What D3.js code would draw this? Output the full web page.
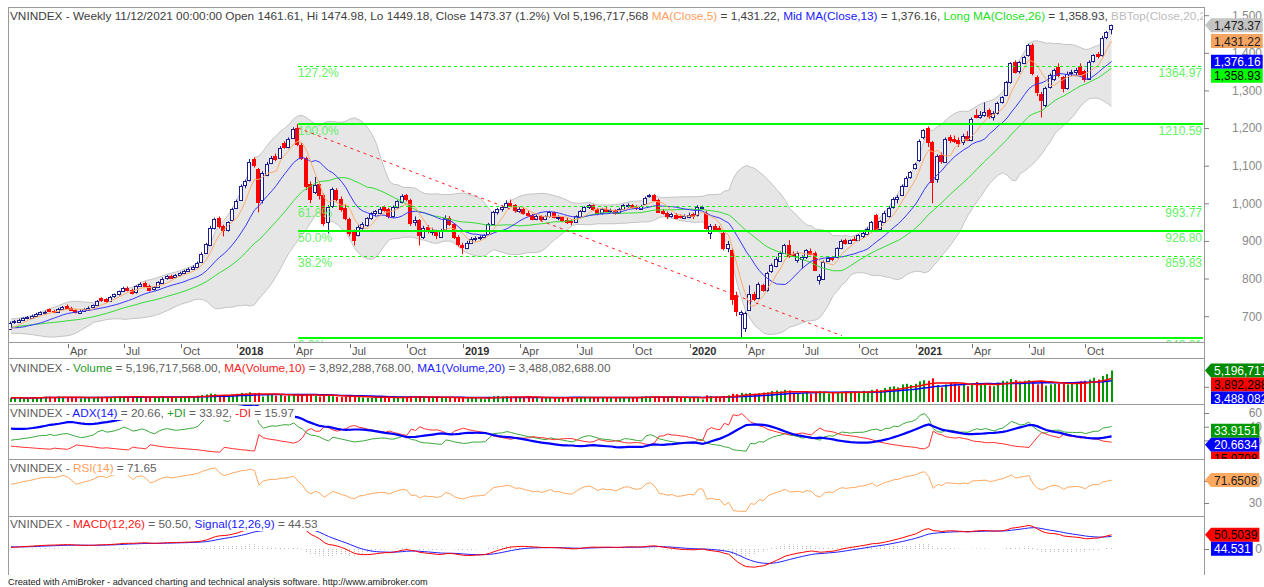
<!DOCTYPE html>
<html>
<head>
<meta charset="utf-8">
<script src="https://cdn.jsdelivr.net/npm/d3@7"></script>
<style>
  body { margin: 0; background: #fff; }
  svg { display: block; }
  svg text { font-family: "Liberation Sans", Arial, sans-serif; }
</style>
</head>
<body>
<svg></svg>
<script>
var w = 1264;
var h = 587;

var svg = d3.select("svg")
            .attr("width", w)
            .attr("height", h);

// weekly bars [open, high, low, close], first week ends 6 Jan 2017
var ohlc2017 = [
  [668,686,665,683],[684,690,680,686],[686,693,683,690],[690,697,688,694],[695,700,692,697],
  [697,704,695,701],[701,709,699,706],[706,713,704,710],[710,715,707,712],[718,720,711,714],
  [714,717,708,713],[712,722,710,719],[719,727,717,724],[728,731,719,722],[722,725,714,717],
  [717,719,707,711],[711,718,709,715],[715,721,712,719],[719,726,716,723],[723,731,721,729],
  [729,743,727,740],[748,750,738,743],[745,748,736,741],[741,754,739,752],[752,760,749,758],
  [758,768,755,766],[766,778,764,775],[776,779,766,770],[770,773,758,763],[763,782,760,780],
  [780,790,778,786],[788,792,778,781],[781,784,766,771],[771,780,768,777],[777,793,775,790],
  [790,803,788,800],[800,809,797,806],[808,810,800,804],[804,812,801,809],[809,818,806,815],
  [815,823,812,820],[820,829,818,826],[826,835,823,832],[832,845,830,842],[845,870,843,866],
  [868,895,866,891],[890,940,886,934],[934,962,930,957],[960,965,933,940],[940,943,912,930],
  [930,952,925,950],[955,988,952,984]
];
var ohlc2018 = [
  [987,1010,985,1005],[1008,1050,1006,1045],[1048,1063,1040,1058],[1061,1118,1058,1110],[1118,1122,1095,1102],
  [1090,1094,976,1003],[1008,1085,1000,1080],[1076,1110,1072,1105],[1108,1126,1104,1121],[1127,1132,1112,1120],
  [1122,1152,1118,1148],[1160,1165,1145,1150],[1150,1175,1146,1172],[1175,1202,1172,1198],[1200,1210.59,1152,1158],
  [1156,1160,1115,1122],[1120,1124,1035,1045],[1052,1058,1000,1012],[1030,1070,1025,1048],[1050,1055,1010,1020],
  [1022,1026,940,948],[950,995,920,990],[992,1042,988,1038],[1035,1040,1005,1012],[1012,1018,978,985],
  [988,996,955,962],[958,962,912,920],[925,930,888,905],[918,942,912,938],[935,950,930,946],
  [942,963,938,960],[960,976,956,973],[973,982,965,979],[976,990,972,986],[990,994,978,983],
  [985,988,960,966],[966,994,962,990],[990,1008,985,1005],[1005,1024,1000,1020],[1022,1025,1005,1012],
  [1010,1012,940,950],[950,965,940,955],[955,958,888,915],[912,940,905,935],[936,942,920,928],
  [925,935,915,926],[926,930,905,915],[912,932,908,927],[930,968,928,960],[962,966,940,945],
  [945,948,905,910],[910,915,885,892]
];
var ohlc2019 = [
  [890,895,865,885],[882,900,878,895],[895,910,892,906],[905,912,898,908],[908,915,902,910],
  [910,918,908,915],[918,948,915,945],[946,980,944,978],[978,988,970,985],[985,995,978,990],
  [992,1008,988,1002],[1002,1010,990,995],[995,998,975,982],[980,990,975,985],[986,990,970,975],
  [974,980,965,970],[970,972,955,960],[958,970,955,966],[966,968,952,958],[958,968,955,965],
  [965,980,962,976],[976,978,960,963],[962,968,955,964],[964,966,950,956],[956,962,945,952],
  [952,958,942,950],[950,968,948,965],[965,982,962,980],[980,992,976,990],[990,998,985,995],
  [995,997,980,985],[985,988,968,975],[975,988,970,985],[985,990,976,980],[980,986,975,982],
  [982,984,970,975],[975,988,972,985],[985,998,982,995],[995,1000,988,996],[996,998,985,990],
  [990,995,982,987],[986,996,984,993],[998,1018,996,1015],[1018,1025,1015,1021],[1022,1025,1005,1010],
  [1009,1012,975,978],[980,985,970,975],[975,978,958,968],[965,975,962,971],[970,974,958,962],
  [966,970,960,963],[962,970,958,966]
];
var ohlc2020 = [
  [966,975,960,970],[972,975,958,966],[968,995,965,990],[990,994,985,991],[975,980,930,936],
  [922,945,905,940],[940,945,928,933],[935,940,925,930],[921,925,875,880],[882,900,870,893],
  [876,880,730,745],[755,765,700,712],[705,715,643.01,710],[668,712,658,708],[718,782,715,760],
  [760,765,740,748],[748,790,745,785],[783,786,765,771],[770,818,765,815],[818,840,815,835],
  [833,858,830,852],[848,872,844,868],[868,892,866,888],[888,902,855,860],[866,872,860,862],
  [848,872,842,867],[852,862,826,858],[856,878,852,875],[874,880,862,866],[868,872,820,824],
  [797,812,784,808],[800,848,796,844],[848,858,845,855],[856,860,846,850],[856,883,854,880],
  [882,904,878,900],[902,906,890,894],[895,904,892,902],[905,912,900,903],[903,918,900,915],
  [912,924,908,921],[921,936,918,933],[930,953,927,950],[968,972,925,929],[932,955,928,952],
  [952,980,948,975],[968,992,962,988],[990,1016,986,1012],[1012,1022,1000,1018],[1022,1050,1020,1046],
  [1048,1072,1045,1068],[1070,1086,1065,1082]
];
var ohlc2021 = [
  [1093,1108,1090,1104],[1115,1170,1110,1166],[1176,1197,1170,1194],[1200,1204,1150,1162],[1162,1166,1000,1056],
  [1064,1130,1055,1126],[1128,1135,1105,1112],[1112,1175,1108,1172],[1176,1182,1160,1168],[1170,1180,1160,1166],
  [1168,1175,1150,1160],[1162,1185,1155,1178],[1180,1192,1165,1170],[1168,1228,1165,1224],[1236,1250,1226,1230],
  [1230,1245,1225,1236],[1234,1268,1230,1242],[1248,1252,1225,1232],[1230,1245,1220,1240],[1240,1270,1236,1266],
  [1268,1285,1265,1282],[1288,1325,1285,1322],[1322,1375,1318,1373],[1375,1380,1345,1349],[1350,1378,1345,1375],
  [1373,1392,1370,1389],[1394,1424,1390,1420],[1421,1425,1340,1346],[1335,1340,1285,1296],[1290,1296,1228,1275],
  [1260,1310,1255,1306],[1309,1345,1305,1341],[1330,1358,1325,1354],[1362,1372,1335,1340],[1335,1338,1295,1305],
  [1308,1350,1302,1345],[1345,1355,1338,1348],[1348,1360,1340,1354],[1366,1372,1340,1345],[1352,1355,1322,1330],
  [1332,1380,1328,1376],[1378,1396,1374,1394],[1398,1402,1385,1392],[1394,1445,1390,1440],[1442,1458,1436,1456],
  [1461.61,1474.98,1449.18,1473.37]
];

// weekly volume, millions of shares
var vol2017 = [650,720,680,560,700,760,820,780,850,900,800,880,760,
               700,720,650,600,640,780,820,900,860,780,820,880,940,
               860,800,900,880,780,740,700,760,820,860,780,740,800,
               860,900,880,950,1050,1150,1250,1400,1300,1150,1100,1000,1200];
var vol2018 = [1350,1500,1400,1600,1450,1500,900,1100,1150,1050,1200,1000,1100,
               1250,1350,1100,1200,1150,1000,900,1050,1100,950,850,800,850,
               900,950,800,750,700,720,700,750,680,700,760,820,850,
               800,1000,820,950,780,700,650,720,680,800,720,700,750];
var vol2019 = [680,620,650,700,600,450,850,950,1000,900,950,920,800,
               760,720,700,680,640,700,720,760,680,640,700,720,680,
               780,820,860,840,760,720,700,680,650,720,800,760,740,
               760,820,880,900,860,820,900,780,720,700,680,720,680];
var vol2020 = [720,760,800,420,1100,950,900,850,1000,1100,1350,1300,1500,
               1400,1500,1350,1450,1550,1600,1800,1900,1750,2000,1900,1500,1450,
               1400,1500,1350,1600,1800,1700,1400,1500,1550,1700,1650,1550,1600,
               1700,1850,1750,2000,2100,1950,2300,2500,2600,2400,2900,3000,2800];
var vol2021 = [3000,3400,3600,3500,3900,2800,2400,2900,3200,3000,2700,2800,2600,
               3100,3300,2900,3000,2700,2600,3200,3500,3400,3800,3600,3400,3500,
               3600,3300,2900,3500,2700,2900,3000,3000,3100,2900,
               3200,3300,3400,3500,3700,4000,3700,4300,4600,5196.717568];

// late 2016 weeks, only to warm up the indicators
var warmClose = [612,618,628,632,634,644,650,646,652,663,670,672,680,676,684,682,688,686,680,684,678,672,662,668,672,668,662,656,660,666,665];
var warmHigh  = [618,622,632,638,640,648,656,654,656,668,675,678,685,684,688,688,692,692,688,688,686,680,674,672,676,674,670,664,664,670,670];
var warmLow   = [604,610,616,626,628,632,642,640,644,650,662,666,670,670,674,676,680,680,676,678,674,668,658,660,664,662,658,650,652,656,660];

// fibonacci drawing: from the 2018 top to the 2020 bottom
var fibRatios = [0, 0.382, 0.5, 0.618, 1, 1.272];
var fibNames  = ["0.0%", "38.2%", "50.0%", "61.8%", "100.0%", "127.2%"];
var fibDashed = [false, true, false, true, false, true];
var fibHighBar = 66, fibLowBar = 168;
// red trend line [bar, price]
var trendPoints = [[66, 1200], [191, 648]];

// last values shown in the right margin
var mainLast = [1473.37, 1431.22, 1376.16, 1358.93];
var volLast  = [5196717568, 3892288768, 3488082688];
var adxLast  = [33.9151, 20.6634, 15.9708];
var rsiLast  = [71.6508];
var macdLast = [50.5039, 44.531];

var priceTicks = [700, 800, 900, 1000, 1100, 1200, 1300, 1400, 1500];

var grey = "#606060";

var ohlc = ohlc2017.concat(ohlc2018, ohlc2019, ohlc2020, ohlc2021);
var vols = vol2017.concat(vol2018, vol2019, vol2020, vol2021);
var n = ohlc.length;

var bars = ohlc.map(function(d, i) {
  return {i: i, date: new Date(2017, 0, 6 + 7 * i),
          o: d[0], h: d[1], l: d[2], c: d[3], v: vols[i] * 1e6};
});

// indicator helpers
function sma(a, p) {
  return a.map(function(d, i) { return d3.mean(a.slice(Math.max(0, i - p + 1), i + 1)); });
}
function sdev(a, p) {
  return a.map(function(d, i) {
    var s = a.slice(Math.max(0, i - p + 1), i + 1), m = d3.mean(s);
    return Math.sqrt(d3.mean(s, function(v) { return (v - m) * (v - m); }));
  });
}
function smooth(a, k) {
  var out = [], prev = a[0];
  a.forEach(function(v, i) { prev = i === 0 ? v : prev + k * (v - prev); out.push(prev); });
  return out;
}
function ema(a, p) { return smooth(a, 2 / (p + 1)); }
function wilders(a, p) { return smooth(a, 1 / p); }

var allC = warmClose.concat(bars.map(function(d) { return d.c; }));
var allH = warmHigh.concat(bars.map(function(d) { return d.h; }));
var allL = warmLow.concat(bars.map(function(d) { return d.l; }));
var skip = warmClose.length;

var ma5 = sma(allC, 5), ma13 = sma(allC, 13), ma26 = sma(allC, 26);
var mid20 = sma(allC, 20), sd20 = sdev(allC, 20);

var gain = [0], loss = [0], tr = [allH[0] - allL[0]], pdm = [0], mdm = [0];
for (var k = 1; k < allC.length; k++) {
  var ch = allC[k] - allC[k - 1];
  gain.push(Math.max(ch, 0));
  loss.push(Math.max(-ch, 0));
  var up = allH[k] - allH[k - 1], dn = allL[k - 1] - allL[k];
  tr.push(Math.max(allH[k] - allL[k], Math.abs(allH[k] - allC[k - 1]), Math.abs(allL[k] - allC[k - 1])));
  pdm.push(up > dn && up > 0 ? up : 0);
  mdm.push(dn > up && dn > 0 ? dn : 0);
}
var ag = wilders(gain, 14), al = wilders(loss, 14);
var rsi = ag.map(function(g, k) { return al[k] === 0 ? 100 : 100 - 100 / (1 + g / al[k]); });
var atr = wilders(tr, 14);
var pdi = wilders(pdm, 14).map(function(v, k) { return 100 * v / atr[k]; });
var mdi = wilders(mdm, 14).map(function(v, k) { return 100 * v / atr[k]; });
var dx = pdi.map(function(v, k) { return v + mdi[k] ? 100 * Math.abs(v - mdi[k]) / (v + mdi[k]) : 0; });
var adx = wilders(dx, 14);
var e12 = ema(allC, 12), e26 = ema(allC, 26);
var macd = e12.map(function(v, k) { return v - e26[k]; });
var signal = ema(macd, 9);

var vma10 = sma(vols, 10), vma20 = sma(vols, 20);

bars.forEach(function(d, i) {
  var k = i + skip;
  d.ma5 = ma5[k]; d.ma13 = ma13[k]; d.ma26 = ma26[k];
  d.bbTop = mid20[k] + 2 * sd20[k]; d.bbBot = mid20[k] - 2 * sd20[k];
  d.rsi = rsi[k]; d.adx = adx[k]; d.pdi = pdi[k]; d.mdi = mdi[k];
  d.macd = macd[k]; d.signal = signal[k]; d.hist = macd[k] - signal[k];
  d.vma10 = vma10[i] * 1e6; d.vma20 = vma20[i] * 1e6;
});

// layout
var xLeft = 8, xAxis = 1204;
var panes = {
  main: [7, 342], vol: [358, 404], adx: [404, 459], rsi: [459, 516], macd: [516, 574]
};

var xScale = d3.scaleLinear().domain([0, n - 1]).range([11, 11 + (n - 1) * 4.35]);
var yMain = d3.scaleLinear().domain([1000, 1500]).range([203.3, 15.2]);
var yVol  = d3.scaleLinear().domain([0, 6e9]).range([402, 365.6]);
var yAdx  = d3.scaleLinear().domain([0, 60]).range([454, 413]);
var yRsi  = d3.scaleLinear().domain([30, 70]).range([503, 481]);
var yMacd = d3.scaleLinear().domain([0, 50]).range([549, 535]);

var defs = svg.append("defs");
Object.keys(panes).forEach(function(key) {
  var p = panes[key];
  defs.append("clipPath").attr("id", "clip-" + key).append("rect")
      .attr("x", xLeft + 1).attr("y", p[0] + 1)
      .attr("width", xAxis - xLeft - 1).attr("height", p[1] - p[0] - 1);
  defs.append("clipPath").attr("id", "lab-" + key).append("rect")
      .attr("x", xAxis).attr("y", p[0] + 1)
      .attr("width", w - xAxis).attr("height", p[1] - p[0] - 1);
});

function line(field, y) {
  return d3.line()
           .x(function(d) { return xScale(d.i); })
           .y(function(d) { return y(d[field]); });
}

// ---------- price pane ----------
var gMain = svg.append("g").attr("clip-path", "url(#clip-main)");

gMain.append("path").datum(bars)
     .attr("d", d3.area()
                  .x(function(d) { return xScale(d.i); })
                  .y0(function(d) { return yMain(d.bbBot); })
                  .y1(function(d) { return yMain(d.bbTop); }))
     .attr("fill", "#e6e6e6");
["bbTop", "bbBot"].forEach(function(f) {
  gMain.append("path").datum(bars).attr("d", line(f, yMain))
       .attr("fill", "none").attr("stroke", "#c4c4c4");
});

var candle = gMain.selectAll("g.candle")
      .data(bars)
      .join("g")
      .attr("class", "candle");
candle.append("line")
      .attr("x1", function(d) { return Math.round(xScale(d.i)) - 0.5; })
      .attr("x2", function(d) { return Math.round(xScale(d.i)) - 0.5; })
      .attr("y1", function(d) { return yMain(d.h); })
      .attr("y2", function(d) { return yMain(d.l); })
      .attr("stroke", function(d) { return d.c >= d.o ? "#1c1c8c" : "#ff0000"; });
candle.append("rect")
      .attr("x", function(d) { return Math.round(xScale(d.i)) - 2.5; })
      .attr("width", 3)
      .attr("y", function(d) { return Math.round(yMain(Math.max(d.o, d.c))) + 0.5; })
      .attr("height", function(d) { return Math.max(1, Math.round(Math.abs(yMain(d.o) - yMain(d.c)))); })
      .attr("fill", function(d) { return d.c >= d.o ? "#ffffff" : "#ff0000"; })
      .attr("stroke", function(d) { return d.c >= d.o ? "#1c1c8c" : "#ff0000"; });

gMain.append("path").datum(bars).attr("d", line("ma26", yMain))
     .attr("fill", "none").attr("stroke", "#33dd33");
gMain.append("path").datum(bars).attr("d", line("ma13", yMain))
     .attr("fill", "none").attr("stroke", "#3838ff");
gMain.append("path").datum(bars).attr("d", line("ma5", yMain))
     .attr("fill", "none").attr("stroke", "#ffab6a");

// fibonacci levels
var fibHigh = bars[fibHighBar].h, fibLow = bars[fibLowBar].l;
fibRatios.forEach(function(r, k) {
  var v = fibLow + r * (fibHigh - fibLow);
  var y = Math.round(yMain(v));
  gMain.append("line")
       .attr("x1", xScale(fibHighBar)).attr("x2", xAxis - 1)
       .attr("y1", fibDashed[k] ? y + 0.5 : y).attr("y2", fibDashed[k] ? y + 0.5 : y)
       .attr("stroke", "#00ff00")
       .attr("stroke-width", fibDashed[k] ? 1 : 2)
       .attr("stroke-dasharray", fibDashed[k] ? "3,3" : null);
  gMain.append("text")
       .attr("x", xScale(fibHighBar)).attr("y", y + 11)
       .attr("font-size", 12).attr("fill", "#66f066")
       .text(fibNames[k]);
  gMain.append("text")
       .attr("x", xAxis - 2).attr("y", y + 11)
       .attr("text-anchor", "end")
       .attr("font-size", 12).attr("fill", "#66f066")
       .text(v.toFixed(2));
});

gMain.append("line")
     .attr("x1", xScale(trendPoints[0][0])).attr("y1", yMain(trendPoints[0][1]))
     .attr("x2", xScale(trendPoints[1][0])).attr("y2", yMain(trendPoints[1][1]))
     .attr("stroke", "#ff2020").attr("stroke-dasharray", "3,4");

// ---------- volume pane ----------
var gVol = svg.append("g").attr("clip-path", "url(#clip-vol)");
gVol.selectAll("rect")
    .data(bars)
    .join("rect")
    .attr("x", function(d) { return Math.round(xScale(d.i)) - 1; })
    .attr("width", 2)
    .attr("y", function(d) { return yVol(d.v); })
    .attr("height", function(d) { return yVol(0) - yVol(d.v); })
    .attr("fill", function(d) { return d.c >= d.o ? "#009a00" : "#ff0000"; });
gVol.append("path").datum(bars).attr("d", line("vma20", yVol))
    .attr("fill", "none").attr("stroke", "#0000ff").attr("stroke-width", 1.5);
gVol.append("path").datum(bars).attr("d", line("vma10", yVol))
    .attr("fill", "none").attr("stroke", "#ff0000").attr("stroke-width", 1.5);

// ---------- ADX pane ----------
var gAdx = svg.append("g").attr("clip-path", "url(#clip-adx)");
gAdx.append("path").datum(bars).attr("d", line("pdi", yAdx))
    .attr("fill", "none").attr("stroke", "#3aa83a");
gAdx.append("path").datum(bars).attr("d", line("mdi", yAdx))
    .attr("fill", "none").attr("stroke", "#ff3030");
gAdx.append("path").datum(bars).attr("d", line("adx", yAdx))
    .attr("fill", "none").attr("stroke", "#0000ff").attr("stroke-width", 2.2);

// ---------- RSI pane ----------
var gRsi = svg.append("g").attr("clip-path", "url(#clip-rsi)");
gRsi.append("path").datum(bars).attr("d", line("rsi", yRsi))
    .attr("fill", "none").attr("stroke", "#ffa860");

// ---------- MACD pane ----------
var gMacd = svg.append("g").attr("clip-path", "url(#clip-macd)");
gMacd.selectAll("line.hist")
     .data(bars)
     .join("line")
     .attr("class", "hist")
     .attr("x1", function(d) { return Math.round(xScale(d.i)) - 0.5; })
     .attr("x2", function(d) { return Math.round(xScale(d.i)) - 0.5; })
     .attr("y1", yMacd(0))
     .attr("y2", function(d) { return yMacd(d.hist); })
     .attr("stroke", "#b8b8b8").attr("stroke-dasharray", "1,1");
gMacd.append("path").datum(bars).attr("d", line("signal", yMacd))
     .attr("fill", "none").attr("stroke", "#2020ff");
gMacd.append("path").datum(bars).attr("d", line("macd", yMacd))
     .attr("fill", "none").attr("stroke", "#ff0000");

// ---------- frames ----------
var frame = svg.append("g").attr("stroke", "#9a9a9a").attr("shape-rendering", "crispEdges");
frame.append("line").attr("x1", xLeft + 0.5).attr("x2", xLeft + 0.5).attr("y1", 7).attr("y2", 575);
frame.append("line").attr("x1", xAxis + 0.5).attr("x2", xAxis + 0.5).attr("y1", 7).attr("y2", 575);
[7, 342, 358, 404, 459, 516].forEach(function(y) {
  frame.append("line").attr("x1", xLeft).attr("x2", xAxis).attr("y1", y + 0.5).attr("y2", y + 0.5);
});

// date axis
var quarterBars = bars.filter(function(d, i) {
  return i > 0 && d.date.getMonth() % 3 === 0 && d.date.getMonth() !== bars[i - 1].date.getMonth();
});
var dateAxis = svg.append("g");
dateAxis.selectAll("line")
        .data(quarterBars)
        .join("line")
        .attr("x1", function(d) { return Math.round(xScale(d.i)) + 0.5; })
        .attr("x2", function(d) { return Math.round(xScale(d.i)) + 0.5; })
        .attr("y1", 344).attr("y2", 348)
        .attr("stroke", "#707070");
dateAxis.selectAll("text")
        .data(quarterBars)
        .join("text")
        .attr("x", function(d) { return Math.round(xScale(d.i)) + 2; })
        .attr("y", 355)
        .attr("font-size", 11)
        .attr("font-weight", function(d) { return d.date.getMonth() === 0 ? "bold" : null; })
        .attr("fill", function(d) { return d.date.getMonth() === 0 ? "#303030" : "#505050"; })
        .text(function(d) { return d3.timeFormat(d.date.getMonth() === 0 ? "%Y" : "%b")(d.date); });

// value axes
function valueAxis(scale, ticks, fmt, showLabels) {
  var g = svg.append("g")
             .attr("transform", "translate(" + xAxis + ",0)")
             .call(d3.axisRight(scale).tickValues(ticks).tickFormat(fmt).tickSize(5));
  g.select(".domain").remove();
  g.attr("color", "#808080");
  g.selectAll("text")
   .attr("x", 58).attr("text-anchor", "end")
   .attr("font-size", 12).attr("fill", "#8a8a8a")
   .style("display", showLabels ? null : "none");
}
valueAxis(yMain, priceTicks, d3.format(","), true);
valueAxis(yVol, [2.5e9], d3.format(","), false);
valueAxis(yAdx, [20, 40, 60], d3.format("d"), true);
valueAxis(yRsi, [30, 70], d3.format("d"), true);
valueAxis(yMacd, [0], d3.format("d"), true);

// titles with white background
defs.append("clipPath").attr("id", "clip-title").append("rect")
    .attr("x", xLeft + 1).attr("y", 0).attr("width", xAxis - xLeft - 2).attr("height", h);

function title(y, parts) {
  var g = svg.append("g").attr("clip-path", "url(#clip-title)");
  var t = g.append("text")
           .attr("x", 10).attr("y", y)
           .attr("font-size", 11.8)
           .style("white-space", "pre");
  parts.forEach(function(p) { t.append("tspan").attr("fill", p[1]).text(p[0]); });
  var bb = t.node().getBBox();
  g.insert("rect", "text")
   .attr("x", bb.x - 1).attr("y", bb.y)
   .attr("width", Math.min(bb.width + 2, xAxis - bb.x)).attr("height", bb.height)
   .attr("fill", "#ffffff");
  return g;
}

title(20, [
  ["VNINDEX - Weekly 11/12/2021 00:00:00 Open 1461.61, Hi 1474.98, Lo 1449.18, Close 1473.37 (1.2%) Vol 5,196,717,568 ", "#404040"],
  ["MA(Close,5)", "#ffa060"], [" = 1,431.22, ", "#404040"],
  ["Mid MA(Close,13)", "#2020ff"], [" = 1,376.16, ", "#404040"],
  ["Long MA(Close,26)", "#22dd22"], [" = 1,358.93, ", "#404040"],
  ["BBTop(Close,20,2) = 1,478.40, BBBot(Close,20,2) = 1,262.16", "#bcbcbc"]
]);
title(372, [
  ["VNINDEX - ", grey], ["Volume", "#2a9a2a"], [" = 5,196,717,568.00, ", grey],
  ["MA(Volume,10)", "#ff2020"], [" = 3,892,288,768.00, ", grey],
  ["MA1(Volume,20)", "#2020ff"], [" = 3,488,082,688.00", grey]
]);
title(417, [
  ["VNINDEX - ", grey], ["ADX(14)", "#2020ff"], [" = 20.66, ", grey],
  ["+DI", "#2a9a2a"], [" = 33.92, ", grey], ["-DI", "#ff2020"], [" = 15.97", grey]
]);
title(472, [
  ["VNINDEX - ", grey], ["RSI(14)", "#ffa060"], [" = 71.65", grey]
]);
title(528, [
  ["VNINDEX - ", grey], ["MACD(12,26)", "#ff2020"], [" = 50.50, ", grey],
  ["Signal(12,26,9)", "#2020ff"], [" = 44.53", grey]
]);

// value tags in the right margin
function tags(key, scale, values, fmt, styles) {
  var g = svg.append("g").attr("clip-path", "url(#lab-" + key + ")");
  var items = values.map(function(v, k) { return {y: scale(v), text: fmt(v), s: styles[k]}; });
  for (var k = 1; k < items.length; k++) {
    if (items[k].y < items[k - 1].y + 14) items[k].y = items[k - 1].y + 14;
  }
  items.forEach(function(d) {
    var t = g.append("text")
             .attr("x", 1214).attr("y", d.y + 4.5)
             .attr("font-size", 12).attr("fill", d.s[1])
             .text(d.text);
    var tw = t.node().getComputedTextLength();
    var x0 = 1211, y0 = d.y - 7, y1 = d.y + 7, x1 = x0 + tw + 5;
    var pts = d.s[2]
      ? [[1205, d.y], [x0, y0], [x1, y0], [x1, y1], [x0, y1]]
      : [[x0, y0], [x1, y0], [x1, y1], [x0, y1]];
    g.insert("polygon", function() { return t.node(); })
     .attr("points", pts.map(function(p) { return p.join(","); }).join(" "))
     .attr("fill", d.s[0]);
  });
}
var f2 = d3.format(",.2f"), f4 = d3.format(".4~f");
tags("main", yMain, mainLast, f2, [["#c4c4c4", "#202020", true], ["#f6a462", "#202020", false],
                                   ["#0000ff", "#ffffff", false], ["#00ff00", "#000000", false]]);
tags("vol", yVol, volLast, d3.format(",.0f"), [["#008a00", "#ffffff", true], ["#ff0000", "#000000", false],
                                              ["#0000ff", "#ffffff", false]]);
tags("adx", yAdx, adxLast, f4, [["#009a00", "#ffffff", false], ["#0000ff", "#ffffff", true],
                                ["#ff0000", "#000000", false]]);
tags("rsi", yRsi, rsiLast, f4, [["#ffa860", "#202020", true]]);
tags("macd", yMacd, macdLast, f4, [["#ff0000", "#000000", true], ["#0000ff", "#ffffff", false]]);

svg.append("text")
   .attr("x", 8).attr("y", 585)
   .attr("font-size", 9.2).attr("fill", "#202020")
   .text("Created with AmiBroker - advanced charting and technical analysis software. http://www.amibroker.com");
</script>
</body>
</html>
